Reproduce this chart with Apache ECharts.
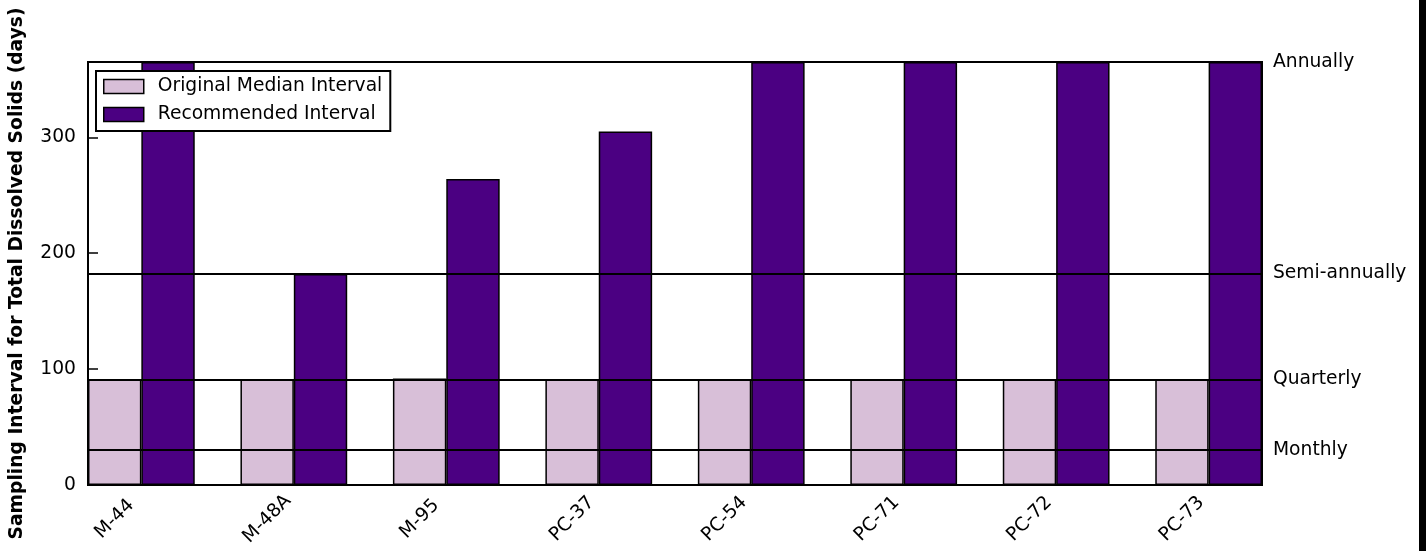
<!DOCTYPE html>
<html><head><meta charset="utf-8">
<script src="https://cdn.jsdelivr.net/npm/echarts@6/dist/echarts.min.js"></script>
<style>html,body{margin:0;padding:0;background:#fff}#c{width:1426px;height:551px}</style>
</head><body><div id="c"></div>
<script>
const categories = ['M-44','M-48A','M-95','PC-37','PC-54','PC-71','PC-72','PC-73'];
const originalMedian = [91, 91, 92, 91, 91, 91, 91, 91];
const recommended = [365, 182, 264, 305, 365, 365, 365, 365];
const refNames = ['Monthly','Quarterly','Semi-annually','Annually'];
const refValues = [30, 91, 182.5, 365];
const yTicks = [0, 100, 200, 300];

const BW = 0.35;
const FONT = 'DejaVu Sans';
const FS = 18.7;
const chart = echarts.init(document.getElementById('c'), null, {renderer:'canvas'});
const barStyle = (c) => ({color: c, borderColor: '#000', borderWidth: 1.5});
chart.setOption({
  animation: false,
  textStyle: {fontFamily: FONT},
  grid: {left: 88, right: 164, top: 62, bottom: 66, show: true, borderColor: '#000', borderWidth: 2, backgroundColor: 'transparent'},
  legend: {
    orient: 'vertical', left: 96, top: 71,
    backgroundColor: '#fff', borderColor: '#000', borderWidth: 2,
    padding: [5, 8, 6, 7], itemWidth: 40, itemHeight: 14, itemGap: 7,
    textStyle: {fontFamily: FONT, fontSize: FS, color: '#000', lineHeight: 21, padding: [0,0,0,9]},
    data: [
      {name: 'Original Median Interval', icon: 'rect', itemStyle: barStyle('#D8BFD8')},
      {name: 'Recommended Interval', icon: 'rect', itemStyle: barStyle('#4B0082')}
    ]
  },
  xAxis: {
    type: 'value', min: 0, max: categories.length - 1 + 2 * BW,
    axisLine: {show: true, lineStyle: {color: '#000', width: 2}},
    axisTick: {show: false}, splitLine: {show: false},
    axisLabel: {
      customValues: categories.map((c, i) => i + BW / 2),
      formatter: (v) => categories[Math.round(v - BW / 2)],
      rotate: 45, align: 'center', verticalAlign: 'middle', margin: 34,
      fontFamily: FONT, fontSize: FS, color: '#000'
    }
  },
  yAxis: [{
    type: 'value', min: 0, max: 365,
    name: 'Sampling Interval for Total Dissolved Solids (days)',
    nameLocation: 'middle', nameGap: 61, nameRotate: 90,
    nameTextStyle: {fontFamily: FONT, fontWeight: 'bold', fontSize: FS, color: '#000'},
    axisLine: {show: true, lineStyle: {color: '#000', width: 2}},
    axisTick: {show: true, inside: true, length: 10, customValues: yTicks, lineStyle: {color: '#000', width: 1.5}},
    axisLabel: {customValues: yTicks, margin: 12, fontFamily: FONT, fontSize: FS, color: '#000'},
    splitLine: {show: false}
  }, {
    type: 'value', min: 0, max: 365, position: 'right',
    axisLine: {show: true, lineStyle: {color: '#000', width: 2}},
    axisTick: {show: true, inside: true, length: 10, customValues: yTicks, lineStyle: {color: '#000', width: 1.5}},
    axisLabel: {show: false}, splitLine: {show: false}
  }],
  series: [{
    name: 'Original Median Interval', type: 'bar', barWidth: 53.4, barGap: '-100%',
    itemStyle: barStyle('#D8BFD8'),
    data: originalMedian.map((v, i) => [i + BW / 2, v])
  }, {
    name: 'Recommended Interval', type: 'bar', barWidth: 53.4, barGap: '-100%',
    itemStyle: barStyle('#4B0082'),
    data: recommended.map((v, i) => [i + 1.5 * BW, v]),
    markLine: {
      silent: true, symbol: 'none', animation: false,
      lineStyle: {color: '#000', width: 2, type: 'solid'},
      label: {show: true, position: 'end', distance: 11, formatter: (p) => p.name, fontFamily: FONT, fontSize: FS, color: '#000'},
      data: refValues.map((v, i) => ({name: refNames[i], yAxis: v}))
    }
  }],
  graphic: [{type: 'rect', shape: {x: 1419, y: 0, width: 7, height: 551}, style: {fill: '#000'}, z: 100}]
});
</script></body></html>
